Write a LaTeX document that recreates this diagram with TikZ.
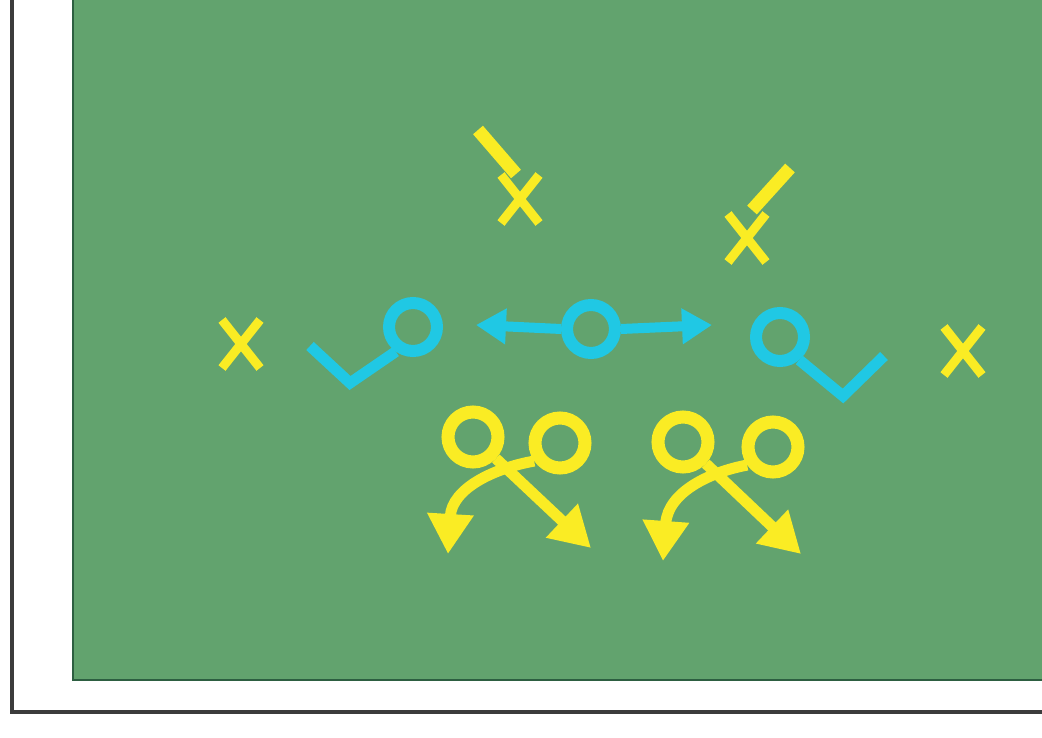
\documentclass[tikz,border=0pt]{standalone}
\usetikzlibrary{arrows.meta}
\definecolor{field}{RGB}{98,163,110}
\definecolor{fieldedge}{RGB}{45,95,65}
\definecolor{frameline}{RGB}{60,60,60}
\definecolor{cyanP}{RGB}{32,200,228}
\definecolor{yel}{RGB}{250,236,36}
\begin{document}
\begin{tikzpicture}[x=1pt,y=-1pt,
  cring/.style={circle,draw=cyanP,line width=12pt,minimum size=48pt,inner sep=0pt},
  yring/.style={circle,draw=yel,line width=13pt,minimum size=50pt,inner sep=0pt},
  croute/.style={draw=cyanP,line width=11pt,line join=miter},
  carrow/.style={draw=cyanP,line width=10pt,-{Triangle[length=30pt,width=34pt]}},
  yroute/.style={draw=yel,line width=11pt,-{Triangle[length=40pt,width=44pt]}},
  block/.style={draw=yel,line width=13pt},
  xmark/.pic={\draw[yel,line width=9pt] (-19,-24) -- (19,24) (19,-24) -- (-19,24);}
]
\useasboundingbox (0,0) rectangle (1042,738);
\fill[white] (0,0) rectangle (1042,738);
% frame
\draw[frameline,line width=3.5pt] (12,-5) -- (12,712) -- (1050,712);
\fill[field] (73,-5) rectangle (1050,680);
\draw[fieldedge,line width=2pt] (73,-5) -- (73,680) -- (1050,680);

% defenders (X)
\pic at (241,344) {xmark};
\pic at (963,351) {xmark};
\pic at (520,199) {xmark};
\pic at (747,238) {xmark};
\coordinate (b1s) at (478,130);
\coordinate (b1e) at (516,174);
\coordinate (b2s) at (790,168);
\coordinate (b2e) at (752,210);
\draw[block] (b1s) -- (b1e);
\draw[block] (b2s) -- (b2e);

% cyan players
\node[cring] (L) at (413,327) {};
\node[cring] (C) at (591,329) {};
\node[cring] (R) at (780,337) {};
\coordinate (lv) at (350,383);
\coordinate (le) at (310,346);
\coordinate (rv) at (843,396);
\coordinate (re) at (884,356);
\draw[croute] (L.235) -- (lv) -- (le);
\draw[croute] (R.-50) -- (rv) -- (re);
\coordinate (ltip) at (476,325);
\coordinate (rtip) at (712,325);
\draw[carrow] (C.west) -- (ltip);
\draw[carrow] (C.east) -- (rtip);

% yellow players
\node[yring] (A) at (473,437) {};
\node[yring] (B) at (560,443) {};
\node[yring] (D) at (683,442) {};
\node[yring] (E) at (773,447) {};
\coordinate (a1) at (591,548);
\coordinate (b1) at (448,554);
\coordinate (d1) at (801,554);
\coordinate (e1) at (663,561);
\draw[yroute] (A) -- (a1);
\draw[yroute] (B.215) .. controls (495,468) and (452,488) .. (b1);
\draw[yroute] (D) -- (d1);
\draw[yroute] (E.215) .. controls (710,472) and (668,492) .. (e1);
\end{tikzpicture}
\end{document}
